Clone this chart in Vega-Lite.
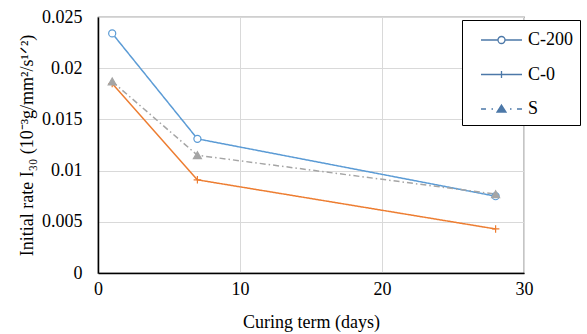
{
  "$schema": "https://vega.github.io/schema/vega-lite/v6.json",
  "width": 426,
  "height": 256,
  "autosize": {"type": "none"},
  "padding": {"left": 98, "top": 17, "right": 63, "bottom": 61},
  "background": "white",
  "config": {
    "font": "Liberation Serif",
    "view": {"stroke": "#404040", "strokeWidth": 1.2},
    "axis": {
      "labelFont": "Liberation Serif",
      "titleFont": "Liberation Serif",
      "labelFontSize": 18,
      "titleFontSize": 18,
      "titleFontWeight": "normal",
      "labelColor": "black",
      "titleColor": "black",
      "gridColor": "#d9d9d9",
      "domainColor": "black",
      "domainWidth": 1.5,
      "ticks": false,
      "tickSize": 0,
      "labelFlush": false
    }
  },
  "data": {
    "values": [
      {"series": "C-200", "day": 1, "value": 0.0234},
      {"series": "C-200", "day": 7, "value": 0.0131},
      {"series": "C-200", "day": 28, "value": 0.0075},
      {"series": "C-0", "day": 1, "value": 0.0185},
      {"series": "C-0", "day": 7, "value": 0.0091},
      {"series": "C-0", "day": 28, "value": 0.0043},
      {"series": "S", "day": 1, "value": 0.0187},
      {"series": "S", "day": 7, "value": 0.0115},
      {"series": "S", "day": 28, "value": 0.0077}
    ]
  },
  "encoding": {
    "x": {
      "field": "day", "type": "quantitative",
      "scale": {"domain": [0, 30], "nice": false},
      "axis": {"values": [0, 10, 20, 30], "title": "Curing term (days)", "labelPadding": 7, "titlePadding": 15}
    },
    "y": {
      "field": "value", "type": "quantitative",
      "scale": {"domain": [0, 0.025], "nice": false},
      "axis": {"values": [0, 0.005, 0.01, 0.015, 0.02, 0.025], "format": ".3~f", "title": "Initial rate I₃₀ (10⁻³g/mm²/s¹ᐟ²)", "labelPadding": 16, "titlePadding": 5}
    }
  },
  "layer": [
    {
      "mark": {"type": "line", "strokeWidth": 1.5},
      "encoding": {
        "stroke": {"field": "series", "type": "nominal", "scale": {"domain": ["C-200", "C-0", "S"], "range": ["#5b9bd5", "#ed7d31", "#a5a5a5"]}, "legend": null},
        "strokeDash": {"field": "series", "type": "nominal", "scale": {"domain": ["C-200", "C-0", "S"], "range": [[1, 0], [1, 0], [6, 3, 1.5, 3]]}, "legend": null}
      }
    },
    {
      "mark": {"type": "point", "opacity": 1, "strokeWidth": 1.2},
      "encoding": {
        "shape": {"field": "series", "type": "nominal", "scale": {"domain": ["C-200", "C-0", "S"], "range": ["circle", "M-1,0L1,0M0,-1L0,1", "triangle-up"]}, "legend": null},
        "stroke": {"field": "series", "type": "nominal", "legend": null},
        "fill": {"field": "series", "type": "nominal", "scale": {"domain": ["C-200", "C-0", "S"], "range": ["#ffffff", "transparent", "#a5a5a5"]}, "legend": null},
        "size": {"field": "series", "type": "nominal", "scale": {"domain": ["C-200", "C-0", "S"], "range": [50, 64, 80]}, "legend": null}
      }
    },
    {
      "transform": [{"filter": "false"}],
      "mark": {"type": "point", "opacity": 1, "filled": false},
      "encoding": {
        "shape": {
          "field": "series", "type": "nominal",
          "scale": {"domain": ["C-200", "C-0", "S"], "range": [
            "M-0.083,0L1.333,0M1.917,0L3.333,0M1.333,0A0.2917,0.2917 0 1,1 1.917,0A0.2917,0.2917 0 1,1 1.333,0Z",
            "M-0.083,0L3.333,0M1.625,-0.2917L1.625,0.2917",
            "M-0.083,0L0.333,0M0.792,0L0.917,0M1.625,-0.333L2,0.25L1.25,0.25ZM1.625,-0.177L1.85,0.172L1.4,0.172ZM1.625,-0.041L1.719,0.104L1.531,0.104ZM2.333,0L2.458,0M2.917,0L3.333,0"
          ]},
          "legend": {
            "title": null,
            "orient": "none",
            "legendX": 364,
            "legendY": 3,
            "padding": 7,
            "rowPadding": 12.5,
            "symbolSize": 576,
            "symbolStrokeWidth": 1.3,
            "labelOffset": 33,
            "labelFont": "Liberation Serif",
            "labelFontSize": 18,
            "labelColor": "black",
            "labelExpr": "datum.label + '\u00a0\u00a0\u00a0'",
            "strokeColor": "black",
            "fillColor": "white",
            "cornerRadius": 0,
            "encode": {
              "symbols": {
                "update": {
                  "stroke": {"signal": "datum.value === 'C-200' ? '#5b9bd5' : datum.value === 'C-0' ? '#ed7d31' : '#a5a5a5'"},
                  "opacity": {"value": 1}
                }
              }
            }
          }
        }
      }
    }
  ],
  "resolve": {"scale": {"shape": "independent"}, "legend": {"shape": "independent"}}
}
